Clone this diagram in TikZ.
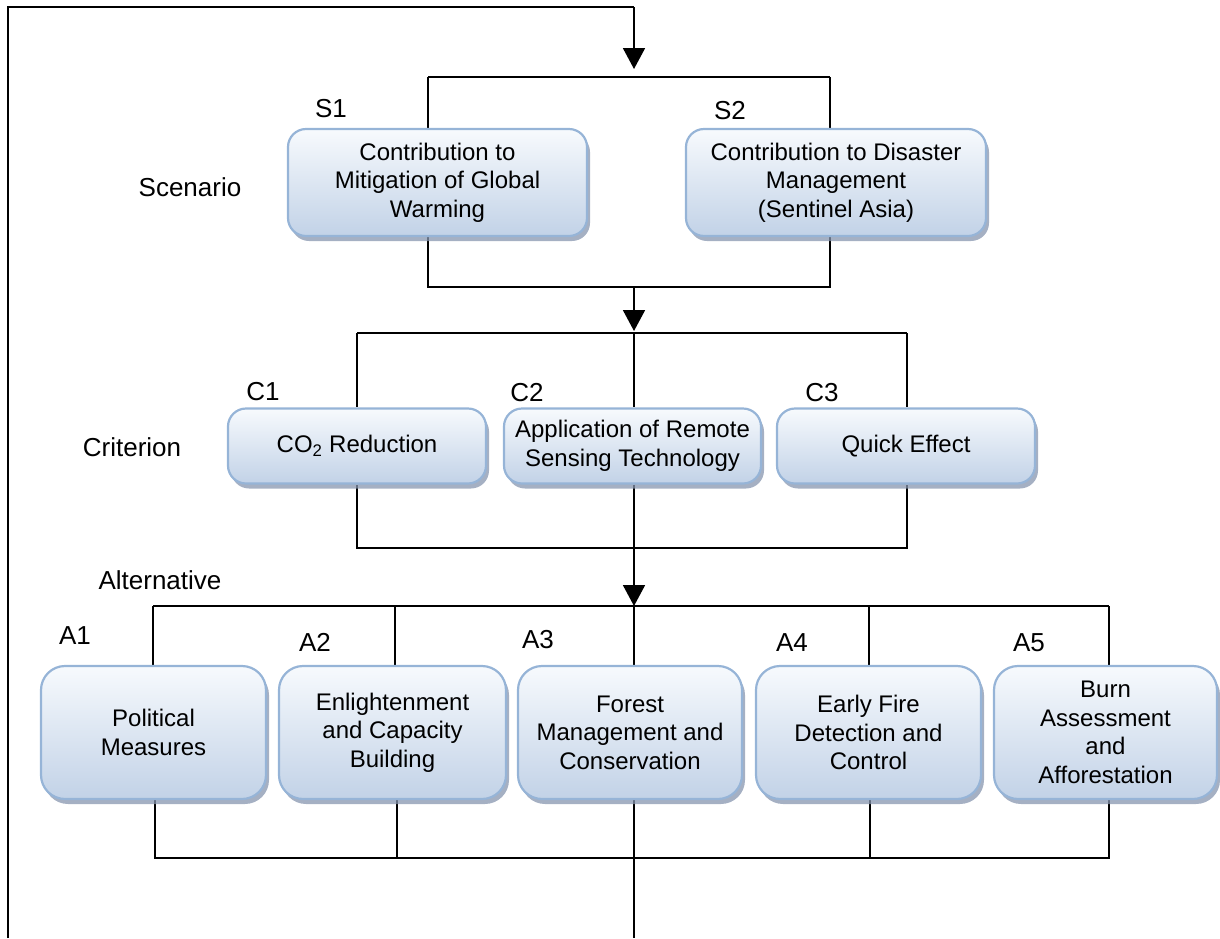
\documentclass[tikz,border=0pt]{standalone}
\usepackage{fontspec}
\setmainfont{Liberation Sans}
\usetikzlibrary{shadows,arrows.meta,backgrounds}
\definecolor{boxedge}{RGB}{150,180,215}
\definecolor{boxtop}{RGB}{247,250,253}
\definecolor{boxbot}{RGB}{194,210,231}
\definecolor{boxshadow}{RGB}{135,150,175}
\begin{document}
\begin{tikzpicture}[x=1pt,y=-1pt,
  box/.style={draw=boxedge, line width=2.2pt, rounded corners=18pt, top color=boxtop, bottom color=boxbot,
    align=center, font=\fontsize{24}{28.5}\selectfont, inner sep=3pt,
    drop shadow={shadow xshift=3pt, shadow yshift=-5pt, fill=boxshadow, opacity=0.75}},
  abox/.style={box, rounded corners=24pt, minimum height=133pt},
  cbox/.style={box, minimum height=75pt},
  sbox/.style={box, minimum height=107pt},
  lbl/.style={font=\fontsize{26}{30}\selectfont, inner sep=0pt},
  conn/.style={line width=1.8pt, black},
  arr/.style={conn, -{Triangle[width=22pt,length=21pt]}}
]
\useasboundingbox (0,0) rectangle (1220,938);

% boxes
\node[sbox, minimum width=299pt] (S1) at (437.5,182.5) {Contribution to\\Mitigation of Global\\Warming};
\node[sbox, minimum width=300pt] (S2) at (836,182.5) {Contribution to Disaster\\Management\\(Sentinel Asia)};

\node[cbox, minimum width=258pt] (C1) at (357,446) {CO\textsubscript{2} Reduction};
\node[cbox, minimum width=257pt] (C2) at (632.5,446) {Application of Remote\\Sensing Technology};
\node[cbox, minimum width=258pt] (C3) at (906,446) {Quick Effect};

\node[abox, minimum width=225pt] (A1) at (153.5,732.5) {Political\\Measures};
\node[abox, minimum width=227pt] (A2) at (392.5,732.5) {Enlightenment\\and Capacity\\Building};
\node[abox, minimum width=224pt] (A3) at (630,732.5) {Forest\\Management and\\Conservation};
\node[abox, minimum width=225pt] (A4) at (868.5,732.5) {Early Fire\\Detection and\\Control};
\node[abox, minimum width=223pt] (A5) at (1105.5,732.5) {Burn\\Assessment\\and\\Afforestation};

% labels
\node[lbl] (lS1) at (331,109) {S1};
\node[lbl] (lS2) at (730,111) {S2};
\node[lbl] (lScen) at (190,187) {Scenario};
\node[lbl] (lC1) at (263,392) {C1};
\node[lbl] (lC2) at (527,393) {C2};
\node[lbl] (lC3) at (822,393) {C3};
\node[lbl] (lCrit) at (132,447) {Criterion};
\node[lbl] (lAlt) at (160,580) {Alternative};
\node[lbl] (lA1) at (75,636) {A1};
\node[lbl] (lA2) at (315,642) {A2};
\node[lbl] (lA3) at (538,640) {A3};
\node[lbl] (lA4) at (792,643) {A4};
\node[lbl] (lA5) at (1029,643) {A5};

% coordinates
\coordinate (loopIn) at (8,938);
\coordinate (k1) at (8,7);
\coordinate (k2) at (634,7);
\coordinate (tip1) at (634,69);
\coordinate (st1) at (428,77);
\coordinate (st2) at (830,77);
\coordinate (sb1) at (428,287);
\coordinate (sb2) at (830,287);
\coordinate (smid) at (634,287);
\coordinate (tip2) at (634,331);
\coordinate (ct1) at (357,333);
\coordinate (ct2) at (634,333);
\coordinate (ct3) at (907,333);
\coordinate (cb1) at (357,548);
\coordinate (cb2) at (634,548);
\coordinate (cb3) at (907,548);
\coordinate (tip3) at (634,606);
\coordinate (at1) at (153,606);
\coordinate (at2) at (395,606);
\coordinate (at3) at (634,606);
\coordinate (at4) at (869,606);
\coordinate (at5) at (1109,606);
\coordinate (ab1) at (155,858);
\coordinate (ab2) at (397,858);
\coordinate (ab3) at (634,858);
\coordinate (ab4) at (870,858);
\coordinate (ab5) at (1109,858);
\coordinate (loopOut) at (634,938);

\begin{scope}[on background layer]
  % feedback loop to top
  \draw[conn] (loopIn) -- (k1) -- (k2);
  \draw[arr] (k2) -- (tip1);
  % scenario bracket
  \draw[conn] (st1) -- (st2);
  \draw[conn] (st1) -- (st1 |- S1.north);
  \draw[conn] (st2) -- (st2 |- S2.north);
  \draw[conn] (sb1 |- S1.south) -- (sb1) -- (sb2) -- (sb2 |- S2.south);
  \draw[arr] (smid) -- (tip2);
  % criterion bracket
  \draw[conn] (ct1) -- (ct3);
  \draw[conn] (ct1) -- (ct1 |- C1.north);
  \draw[conn] (ct2) -- (ct2 |- C2.north);
  \draw[conn] (ct3) -- (ct3 |- C3.north);
  \draw[conn] (cb1 |- C1.south) -- (cb1) -- (cb3) -- (cb3 |- C3.south);
  \draw[conn] (cb2 |- C2.south) -- (cb2);
  \draw[arr] (cb2) -- (tip3);
  % alternative bracket
  \draw[conn] (at1) -- (at5);
  \draw[conn] (at1) -- (at1 |- A1.north);
  \draw[conn] (at2) -- (at2 |- A2.north);
  \draw[conn] (at3) -- (at3 |- A3.north);
  \draw[conn] (at4) -- (at4 |- A4.north);
  \draw[conn] (at5) -- (at5 |- A5.north);
  \draw[conn] (ab1 |- A1.south) -- (ab1) -- (ab5) -- (ab5 |- A5.south);
  \draw[conn] (ab2 |- A2.south) -- (ab2);
  \draw[conn] (ab4 |- A4.south) -- (ab4);
  \draw[conn] (ab3 |- A3.south) -- (loopOut);
\end{scope}
\end{tikzpicture}
\end{document}
